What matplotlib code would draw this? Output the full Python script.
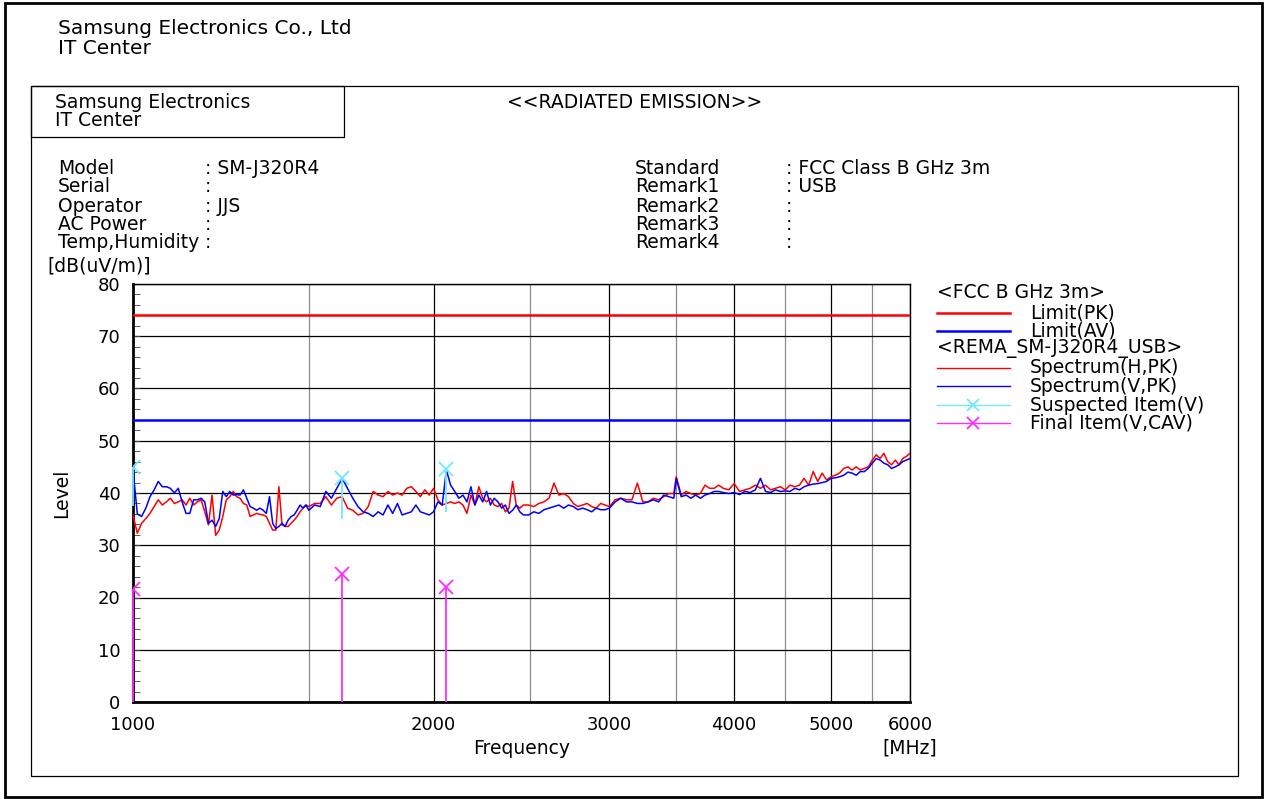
import matplotlib.pyplot as plt
from matplotlib.lines import Line2D
from matplotlib.patches import Rectangle
from matplotlib.ticker import MultipleLocator, NullFormatter

# Canvas size in pixels (dpi 100)
W, H = 1266, 799

freq = [1000, 1010, 1020, 1030, 1040, 1050, 1060, 1070, 1080, 1090,
        1100, 1110, 1120, 1130, 1140, 1150, 1160, 1170, 1180, 1190,
        1200, 1210, 1220, 1230, 1240, 1250, 1260, 1270, 1280, 1290,
        1300, 1310, 1320, 1330, 1340, 1350, 1360, 1370, 1380, 1390,
        1400, 1410, 1420, 1430, 1440, 1450, 1460, 1470, 1480, 1490,
        1500, 1520, 1540, 1560,
        1580, 1600, 1620, 1640, 1660, 1680, 1700, 1720, 1740, 1760,
        1780, 1800, 1820, 1840, 1860, 1880, 1900, 1920, 1940, 1960,
        1980, 2000, 2020, 2040, 2060, 2080, 2100, 2120, 2140, 2160,
        2180, 2200, 2220, 2240, 2260, 2280, 2300, 2320, 2340, 2360,
        2380, 2400, 2420, 2440, 2460,
        2490, 2520, 2550, 2580, 2610, 2640, 2670, 2700, 2730, 2760,
        2790, 2820, 2850, 2880, 2910, 2940, 2970,
        3000, 3040, 3080, 3120, 3160, 3200, 3240, 3280, 3320, 3360,
        3400, 3440, 3480, 3500, 3540, 3580, 3620, 3660, 3700, 3740,
        3780, 3820, 3860,
        3900, 3950, 4000, 4050, 4100, 4150, 4200, 4250, 4300, 4350,
        4400, 4450, 4500, 4550, 4600, 4650, 4700, 4750, 4800, 4850,
        4900, 4950, 5000, 5050, 5100, 5150, 5200, 5250, 5300, 5350,
        5400, 5450, 5500, 5550, 5600, 5650, 5700, 5750, 5800, 5850,
        5900, 5950, 6000]

# Spectrum (H, PK) [dB(uV/m)]
spec_h = [35.8, 32.3, 34.2, 35.1, 36.1, 37.4, 38.7, 37.7, 38.3, 39.0,
          38.0, 38.3, 38.7, 37.7, 39.0, 37.7, 38.3, 38.7, 36.4, 33.9,
          39.6, 31.9, 32.9, 35.5, 38.7, 39.3, 40.3, 39.3, 39.0, 38.0,
          37.7, 35.5, 35.8, 36.1, 35.9, 35.8, 35.5, 34.2, 32.9, 32.9,
          41.2, 33.9, 33.6, 33.6, 34.2, 34.8, 35.5, 36.4, 37.1, 37.7,
          37.4, 38.0, 38.0, 39.3,
          37.7, 39.0, 39.3, 37.1, 36.7, 35.8, 36.1, 37.4, 40.3, 39.6,
          39.3, 40.3, 39.6, 40.0, 39.6, 40.9, 41.2, 40.3, 39.3, 40.6,
          39.6, 40.9, 38.7, 37.7, 38.0, 38.3, 38.0, 38.3, 37.7, 36.1,
          39.6, 37.7, 41.2, 39.0, 38.3, 39.0, 37.7, 37.4, 38.0, 36.4,
          37.1, 42.2, 37.7, 37.1, 37.7,
          37.7, 37.4, 38.0, 38.3, 39.0, 41.9, 39.6, 39.9, 39.3, 38.0,
          37.4, 37.7, 38.0, 37.4, 37.1, 38.0, 37.7,
          37.4, 38.7, 39.0, 38.7, 38.7, 41.9, 38.3, 38.3, 39.0, 38.7,
          39.3, 39.9, 39.9, 43.1, 39.6, 40.3, 39.9, 39.6, 39.9, 41.5,
          40.9, 40.9, 41.5,
          40.9, 40.6, 41.8, 40.3, 40.6, 40.9, 41.5, 40.9, 41.5, 40.6,
          40.9, 41.2, 40.6, 41.5, 41.2, 41.5, 42.8, 41.5, 44.1, 42.2,
          43.8, 42.5, 43.1, 43.4, 43.8, 44.7, 45.0, 44.4, 45.0, 44.4,
          44.7, 45.0, 46.3, 47.3, 46.6, 47.6, 46.0, 45.4, 46.3, 45.4,
          46.6, 47.0, 47.6]

# Spectrum (V, PK) [dB(uV/m)]
spec_v = [44.5, 36.0, 35.5, 37.1, 39.3, 40.6, 42.2, 41.2, 41.2, 40.9,
          40.0, 40.9, 38.3, 36.1, 36.1, 38.7, 38.7, 39.0, 38.3, 34.2,
          34.8, 33.6, 35.1, 40.3, 39.3, 40.3, 39.6, 39.7, 39.6, 40.6,
          39.0, 37.4, 37.1, 36.7, 37.1, 36.7, 36.1, 39.3, 34.2, 33.2,
          33.6, 34.2, 33.6, 34.8, 35.5, 35.8, 36.7, 37.7, 37.1, 37.7,
          36.7, 37.7, 37.4, 40.3,
          39.0, 40.9, 42.8, 40.9, 39.0, 37.4, 36.4, 36.1, 35.5, 36.4,
          35.8, 37.7, 36.1, 38.0, 35.8, 36.1, 36.4, 37.7, 36.4, 36.1,
          35.8, 36.4, 38.3, 37.7, 44.4, 41.5, 40.3, 39.0, 39.6, 38.3,
          41.2, 37.7, 39.6, 38.3, 40.3, 37.7, 39.0, 38.3, 37.1, 37.7,
          36.1, 36.7, 37.7, 36.4, 35.8,
          35.8, 36.4, 36.1, 36.8, 37.1, 37.4, 37.7, 37.1, 37.7, 37.4,
          36.8, 37.1, 36.8, 36.4, 37.1, 36.8, 36.8,
          37.1, 38.3, 39.0, 38.3, 38.3, 38.0, 38.0, 38.3, 38.7, 38.3,
          39.6, 39.3, 39.0, 42.8, 39.3, 39.6, 39.0, 39.6, 39.0, 39.6,
          39.9, 40.3, 40.3,
          40.1, 39.9, 40.1, 39.7, 40.3, 40.1, 40.6, 42.8, 40.3, 40.1,
          40.6, 40.3, 40.4, 40.3, 40.9, 40.6, 41.2, 41.5, 41.7, 41.8,
          42.0, 42.2, 42.8, 42.9, 43.1, 43.4, 44.0, 43.8, 43.4, 44.1,
          44.1, 44.7, 45.7, 46.6, 46.3, 45.7, 45.4, 44.7, 45.0, 45.4,
          46.0, 46.3, 46.6]

# Limits (FCC class B, 3 m)
limit_pk = 74
limit_av = 54

# Suspected items (V): marker level and lower end of their short stem
suspect_freq = [1000, 1620, 2060]
suspect_level = [45.0, 42.9, 44.6]
suspect_low = [37.5, 35.0, 36.4]

# Final items (V, CAV)
final_freq = [1000, 1620, 2060]
final_level = [21.6, 24.5, 22.0]

x_ticks = [1000, 2000, 3000, 4000, 5000, 6000]
x_tick_labels = ['1000', '2000', '3000', '4000', '5000', '6000']
x_minor = [1500, 2500, 3500, 4500, 5500]
y_ticks = [0, 10, 20, 30, 40, 50, 60, 70, 80]

RED = '#ff0000'
BLUE = '#0000ff'
CYAN = '#70e8ff'
MAGENTA = '#ff2bff'
FS = 13.5
FS_HEAD = 14.5
FS_TICK = 13

plt.rcParams['font.family'] = ['DejaVu Sans']


def fx(px):
    return px / W


def fy(py):
    return 1 - py / H


def ftext(px, py, s, **kw):
    kw.setdefault('fontsize', FS)
    kw.setdefault('va', 'center')
    fig.text(fx(px), fy(py), s, **kw)


fig = plt.figure(figsize=(W / 100, H / 100), dpi=100)

# Frames
fig.add_artist(Rectangle((fx(5), fy(797)), fx(1262) - fx(5), (797 - 3) / H,
                         transform=fig.transFigure, fill=False, lw=2, ec='black'))
fig.add_artist(Rectangle((fx(31), fy(776)), fx(1238) - fx(31), (776 - 86) / H,
                         transform=fig.transFigure, fill=False, lw=0.9, ec='black'))
fig.add_artist(Rectangle((fx(31), fy(137)), fx(344) - fx(31), (137 - 86) / H,
                         transform=fig.transFigure, fill=False, lw=0.9, ec='black'))

# Header
ftext(58, 29, 'Samsung Electronics Co., Ltd', fontsize=FS_HEAD)
ftext(58, 49, 'IT Center', fontsize=FS_HEAD)
ftext(55, 102, 'Samsung Electronics')
ftext(55, 121, 'IT Center')
ftext(635, 102, '<<RADIATED EMISSION>>', ha='center')

left_labels = ['Model', 'Serial', 'Operator', 'AC Power', 'Temp,Humidity']
left_values = [': SM-J320R4', ':', ': JJS', ':', ':']
right_labels = ['Standard', 'Remark1', 'Remark2', 'Remark3', 'Remark4']
right_values = [': FCC Class B GHz 3m', ': USB', ':', ':', ':']
rows_y = [169, 187, 206, 224, 242]
for y, lab, val in zip(rows_y, left_labels, left_values):
    ftext(58, y, lab)
    ftext(205, y, val)
for y, lab, val in zip(rows_y, right_labels, right_values):
    ftext(635, y, lab)
    ftext(786, y, val)

ftext(47, 266, '[dB(uV/m)]')
ftext(62, 493, 'Level', rotation=90, ha='center')
ftext(522, 748, 'Frequency', ha='center')
ftext(882, 748, '[MHz]')

# Plot area
ax = fig.add_axes([fx(133), fy(702), fx(910) - fx(133), (702 - 284) / H])
ax.set_xscale('log')

ax.plot(freq, spec_h, color=RED, lw=1.1, zorder=3)
ax.plot(freq, spec_v, color=BLUE, lw=1.1, zorder=4)
ax.axhline(limit_pk, color=RED, lw=1.8, zorder=3)
ax.axhline(limit_av, color=BLUE, lw=1.8, zorder=3)

ax.vlines(suspect_freq, suspect_low, suspect_level, color=CYAN, lw=1.3,
          zorder=5, clip_on=False)
ax.plot(suspect_freq, suspect_level, ls='none', marker='x', ms=10, mew=1.3,
        color=CYAN, zorder=6)
ax.vlines(final_freq, 0, final_level, color=MAGENTA, lw=1.3, zorder=5,
          clip_on=False)
ax.plot(final_freq, final_level, ls='none', marker='x', ms=10, mew=1.3,
        color=MAGENTA, zorder=6)

ax.set_xlim(1000, 6000)
ax.set_ylim(0, 80)
ax.set_xticks(x_ticks, labels=x_tick_labels)
ax.set_xticks(x_minor, minor=True)
ax.xaxis.set_minor_formatter(NullFormatter())
ax.set_yticks(y_ticks)
ax.yaxis.set_minor_locator(MultipleLocator(2))

ax.grid(True, which='major', color='black', lw=0.9, zorder=1)
ax.grid(True, which='minor', axis='x', color='#8a8a8a', lw=0.9, zorder=1)
ax.set_axisbelow(True)

ax.tick_params(axis='x', which='both', length=0, pad=10, labelsize=FS_TICK)
ax.tick_params(axis='y', which='both', direction='in', length=5,
               color='#404040', pad=9, labelsize=FS_TICK)
for side in ('left', 'bottom'):
    ax.spines[side].set_linewidth(2)
for side in ('top', 'right'):
    ax.spines[side].set_linewidth(1)

# Legend (drawn on the right side like the original report)
ftext(937, 293, '<FCC B GHz 3m>')
ftext(937, 349, '<REMA_SM-J320R4_USB>')
legend_rows = [
    (313, 'Limit(PK)', RED, 1.8, None),
    (331, 'Limit(AV)', BLUE, 1.8, None),
    (368, 'Spectrum(H,PK)', RED, 1.0, None),
    (386, 'Spectrum(V,PK)', BLUE, 1.0, None),
    (405, 'Suspected Item(V)', CYAN, 1.0, 'x'),
    (423, 'Final Item(V,CAV)', MAGENTA, 1.0, 'x'),
]
for y, label, col, lw, mk in legend_rows:
    fig.add_artist(Line2D([fx(937), fx(1010)], [fy(y), fy(y)], color=col, lw=lw,
                          transform=fig.transFigure))
    if mk:
        fig.add_artist(Line2D([fx(973)], [fy(y)], color=col, marker=mk, ms=9,
                              mew=1.3, transform=fig.transFigure))
    ftext(1030, y, label)

fig.savefig('out.png', dpi=100)
